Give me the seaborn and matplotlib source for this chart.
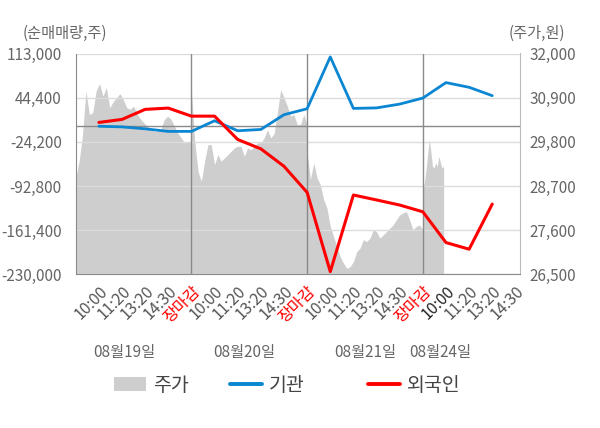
import numpy as np
import matplotlib
matplotlib.use("Agg")
import matplotlib.pyplot as plt
import seaborn as sns
from matplotlib.patches import Patch
from matplotlib.lines import Line2D

# x축 시간 라벨
time_labels = ['10:00', '11:20', '13:20', '14:30', '장마감',
               '10:00', '11:20', '13:20', '14:30', '장마감',
               '10:00', '11:20', '13:20', '14:30', '장마감',
               '10:00', '11:20', '13:20', '14:30']
dates = ['08월19일', '08월20일', '08월21일', '08월24일']

# 누적 순매매량 (주)
inst = [0, -1000, -4000, -8000, -8000, 8500, -7000, -5000, 17900, 27200,
        107700, 27700, 28500, 34400, 43800, 67800, 60500, 47500]
foreign = [5900, 10600, 26200, 28200, 15700, 15700, -20600, -35100, -62200, -102800,
           -225900, -106800, -114500, -122400, -132900, -180700, -191000, -120900]

# 주가 (원), 일자별
price_d1 = [28900, 29315, 29980, 31065, 30480, 30525, 31065, 31250, 30940, 31150,
            30650, 30800, 30900, 31000, 30850, 30650, 30610, 30690, 30500, 30370,
            30275, 30190, 30110, 30065, 30065, 30110, 30350, 30440, 30360, 30190,
            30020, 29900, 29770, 29810, 29815]
price_d2 = [31065, 29815, 29065, 28815, 29315, 29730, 29730, 29230, 29480, 29315,
            29400, 29480, 29565, 29650, 29690, 29690, 29440, 29650, 29600, 29690,
            29775, 29775, 29900, 30100, 29900, 30000, 30525, 31100, 30900, 30690,
            30440, 30480, 30230, 30230, 30480, 30230]
price_d3 = [29525, 28860, 29275, 28900, 28730, 28360, 28150, 27690, 27440, 27190,
            26940, 26775, 26650, 26690, 26815, 27065, 27150, 27360, 27315, 27400,
            27610, 27565, 27400, 27480, 27565, 27650, 27730, 27860, 27980, 28025,
            28065, 27860, 27610, 27690, 27730, 27610]
price_d4 = [28650, 28775, 29110, 29480, 29860, 29565, 29190, 29150, 29275, 29190,
            29440, 29275, 29150, 29190]

left_ticks = [113000, 44400, -24200, -92800, -161400, -230000]
right_ticks = [32000, 30900, 29800, 28700, 27600, 26500]

sns.set_style('white')
plt.rcParams['font.family'] = ['Noto Sans CJK KR', 'DejaVu Sans']

fig = plt.figure(figsize=(6, 4.28), dpi=100)
ax = fig.add_axes([0.1262, 0.3591, 0.7405, 0.5159])
ax2 = ax.twinx()
ax.set_zorder(ax2.get_zorder() + 1)
ax.patch.set_visible(False)
ax2.patch.set_facecolor('#f4f4f4')

# 주가 영역
px, py = [], []
for d, vals in enumerate([price_d1, price_d2, price_d3]):
    px.extend(np.linspace(5 * d - 1, 5 * d + 4, len(vals)))
    py.extend(vals)
px.extend(np.linspace(14, 14.9, len(price_d4)))
py.extend(price_d4)
ax2.fill_between(px, py, 26500, color='#cecece', lw=0)
ax2.set_ylim(26500, 32000)
ax2.set_yticks(right_ticks)
ax2.set_yticklabels([f'{v:,}' for v in right_ticks], fontsize=11, color='#666')
ax2.tick_params(axis='y', length=0, pad=7)

# 순매매량 라인
idx = list(range(len(inst)))
sns.lineplot(x=idx, y=inst, ax=ax, color='#0a86d2', lw=2)
sns.lineplot(x=idx, y=foreign, ax=ax, color='#ff0000', lw=2.2)

ax.set_ylim(-230000, 113000)
ax.set_yticks(left_ticks)
ax.set_yticklabels([f'{v:,}' for v in left_ticks], fontsize=11, color='#666')
ax.tick_params(axis='y', length=0, pad=10)
ax.grid(axis='y', color='#dcdcdc', lw=1)
ax.axhline(0, color='#8a8a8a', lw=1, zorder=1)
for b in [4, 9, 14]:
    ax.axvline(b, color='#8a8a8a', lw=1, zorder=1)

ax.set_xlim(-1, 18.2)
ax.set_xticks(range(len(time_labels)))
ax.set_xticklabels(time_labels, rotation=45, ha='right', rotation_mode='anchor',
                   fontsize=11.5, color='#555')
for i, t in enumerate(ax.get_xticklabels()):
    if time_labels[i] == '장마감':
        t.set_color('#ff0000')
    elif i == 15:
        t.set_color('#222222')
ax.tick_params(axis='x', which='major', length=0, pad=6)
ax.set_xticks([-1, 4, 9, 14, 18.2], minor=True)
ax.tick_params(axis='x', which='minor', length=4, color='#8a8a8a', width=1)

for s in ['top', 'right']:
    ax.spines[s].set_visible(False)
for s in ['top', 'left', 'bottom']:
    ax2.spines[s].set_visible(False)
ax.spines['left'].set_color('#8a8a8a')
ax.spines['bottom'].set_color('#8a8a8a')
ax2.spines['right'].set_color('#bbbbbb')

# 날짜 라벨
for x, d in zip([1.1, 6.3, 11.5, 14.75], dates):
    ax.text(x, -0.355, d, transform=ax.get_xaxis_transform(), ha='center', va='center',
            fontsize=11, color='#666')

fig.text(0.037, 0.922, '(순매매량,주)', fontsize=11, color='#666', va='center')
fig.text(0.848, 0.922, '(주가,원)', fontsize=11, color='#666', va='center')

# 범례
items = [
    (Patch(facecolor='#cecece', edgecolor='none'), '주가', 0.19),
    (Line2D([0], [0], color='#0a86d2', lw=2.8), '기관', 0.383),
    (Line2D([0], [0], color='#ff0000', lw=2.8), '외국인', 0.613),
]
for h, lab, x in items:
    fig.legend([h], [lab], loc='center left', bbox_to_anchor=(x, 0.099), frameon=False,
               fontsize=14, handlelength=1.65, handleheight=0.72, handletextpad=0.36,
               borderpad=0, borderaxespad=0, labelcolor='#444')

fig.savefig('out.png', dpi=100)
